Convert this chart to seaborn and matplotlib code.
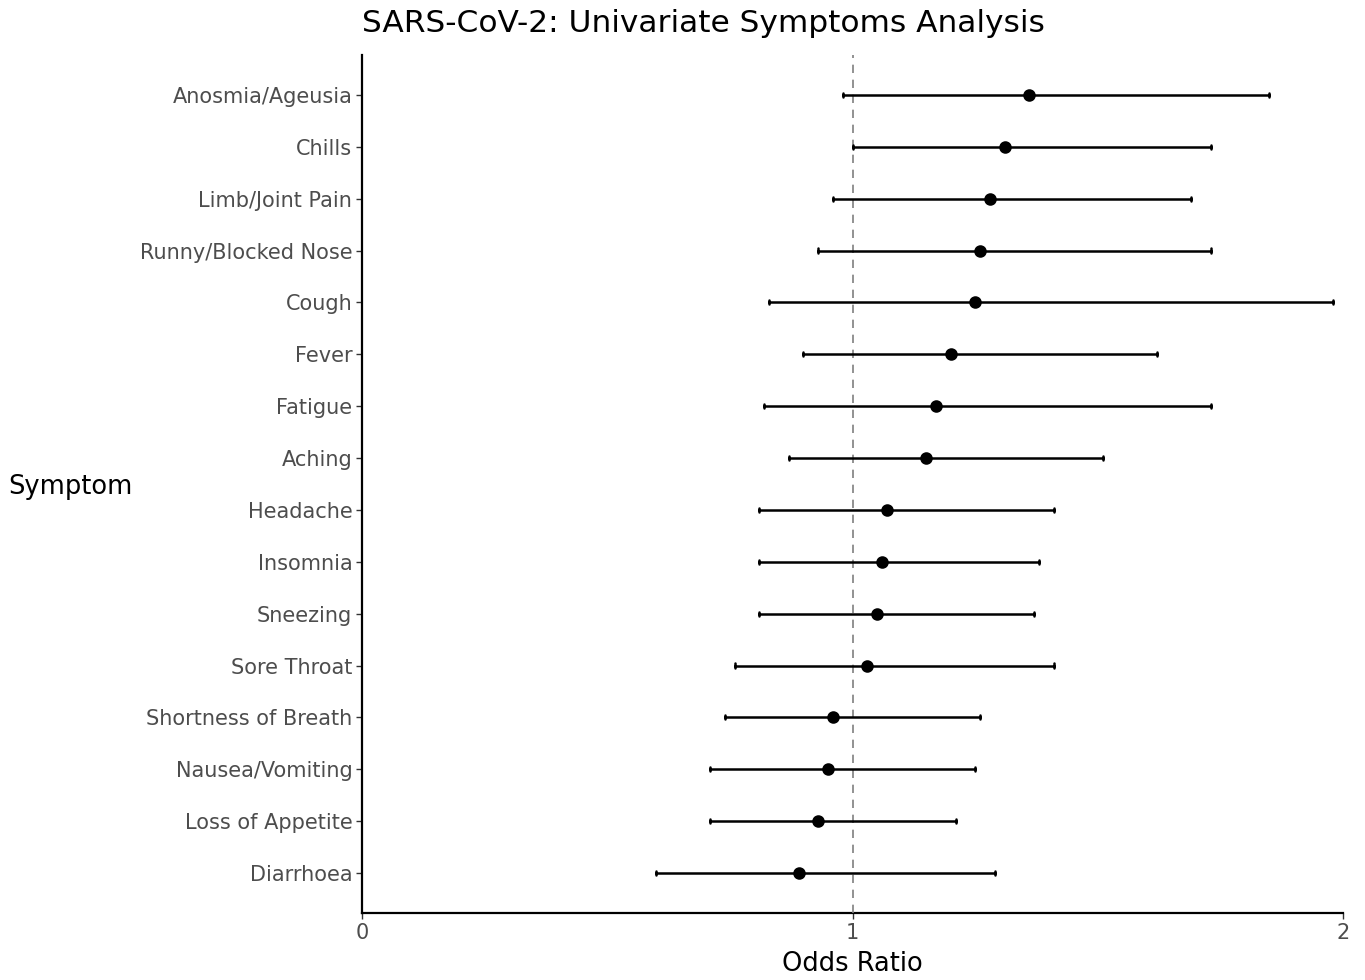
import numpy as np
import pandas as pd
import matplotlib
matplotlib.use("Agg")
import matplotlib.pyplot as plt
import seaborn as sns

# Univariate odds ratios with 95% confidence limits
symptoms = [
    "Anosmia/Ageusia", "Chills", "Limb/Joint Pain", "Runny/Blocked Nose",
    "Cough", "Fever", "Fatigue", "Aching", "Headache", "Insomnia",
    "Sneezing", "Sore Throat", "Shortness of Breath", "Nausea/Vomiting",
    "Loss of Appetite", "Diarrhoea",
]
odds_ratio = [1.36, 1.31, 1.28, 1.26, 1.25, 1.20, 1.17, 1.15,
              1.07, 1.06, 1.05, 1.03, 0.96, 0.95, 0.93, 0.89]
ci_low = [0.98, 1.00, 0.96, 0.93, 0.83, 0.90, 0.82, 0.87,
          0.81, 0.81, 0.81, 0.76, 0.74, 0.71, 0.71, 0.60]
ci_high = [1.85, 1.73, 1.69, 1.73, 1.98, 1.62, 1.73, 1.51,
           1.41, 1.38, 1.37, 1.41, 1.26, 1.25, 1.21, 1.29]

x_ticks = [0, 1, 2]

# Long form: the median of (low, OR, high) is the OR, the range is the CI
long = pd.DataFrame({
    "Symptom": np.repeat(symptoms, 3),
    "value": np.column_stack([ci_low, odds_ratio, ci_high]).ravel(),
})

sns.set_theme(style="ticks")
plt.rcParams["font.family"] = ["DejaVu Sans"]

fig = plt.figure(figsize=(13.65, 9.8), dpi=100)
ax = fig.add_axes([0.2652, 0.0684, 0.7187, 0.8755])

ax.axvline(1, color="#7f7f7f", linestyle=(0, (5, 4)), linewidth=1.2, zorder=1)

sns.pointplot(
    data=long, x="value", y="Symptom", order=symptoms,
    estimator="median", errorbar=lambda v: (v.min(), v.max()),
    linestyle="none", color="black", markers="o", markersize=7,
    err_kws={"linewidth": 1.8}, capsize=0.08, orient="h", ax=ax,
)
for ln in ax.lines:
    ln.set_zorder(3)

ax.set_xlim(0, 2)
ax.set_ylim(len(symptoms) - 1 + 0.77, -0.77)
ax.set_xticks(x_ticks)
ax.set_xticklabels([str(t) for t in x_ticks])

sns.despine(ax=ax)
for side in ("left", "bottom"):
    ax.spines[side].set_linewidth(1.6)
    ax.spines[side].set_color("black")

ax.tick_params(axis="both", length=4, width=1.0, color="#333333",
               labelsize=15, labelcolor="#4d4d4d", pad=3)

ax.set_xlabel("Odds Ratio", fontsize=18.5, color="black", labelpad=6)
ax.set_ylabel("Symptom", fontsize=18.5, color="black", rotation=0,
              ha="left", va="center")
ax.yaxis.set_label_coords(-0.361, 0.497)

ax.set_title("SARS-CoV-2: Univariate Symptoms Analysis", fontsize=22.5,
             loc="left", color="black", pad=16.5)

fig.savefig("out.png", dpi=100)
